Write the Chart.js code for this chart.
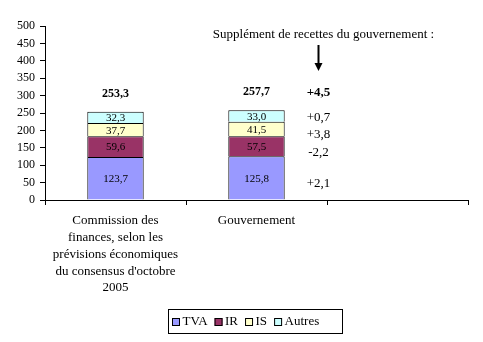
<!DOCTYPE html>
<html lang="fr">
<head>
<meta charset="utf-8">
<title>Recettes fiscales 2006</title>
<script src="https://cdn.jsdelivr.net/npm/chart.js@4"></script>
<style>
  html, body { margin: 0; padding: 0; background: #ffffff; }
  canvas { display: block; }
</style>
</head>
<body>
<canvas id="recettesChart" width="483" height="342"></canvas>
<script>
// Données (en milliards)
const categories = [
  ['Commission des', 'finances, selon les', 'prévisions économiques', "du consensus d'octobre", '2005'],
  'Gouvernement',
  ''
];
const tva = [123.7, 125.8, null];
const ir = [59.6, 57.5, null];
const is = [37.7, 41.5, null];
const autres = [32.3, 33.0, null];
const totaux = ['253,3', '257,7'];

// Supplément de recettes du gouvernement, par impôt (TVA, IR, IS, Autres)
const supplements = ['+2,1', '-2,2', '+3,8', '+0,7'];
const supplementTotal = '+4,5';
const titreSupplement = 'Supplément de recettes du gouvernement :';

const serif = '"Liberation Serif", "Times New Roman", serif';

// Libellés : valeurs dans les barres, totaux, suppléments et légende encadrée
const annotations = {
  id: 'annotations',
  afterDatasetsDraw(chart) {
    const ctx = chart.ctx;
    const x = chart.scales.x;
    ctx.save();
    ctx.fillStyle = '#000';
    ctx.textAlign = 'center';
    ctx.textBaseline = 'middle';

    // valeurs au centre de chaque segment
    ctx.font = '11px ' + serif;
    chart.data.datasets.forEach((ds, i) => {
      chart.getDatasetMeta(i).data.forEach((bar, j) => {
        if (ds.data[j] == null) return;
        const label = ds.data[j].toFixed(1).replace('.', ',');
        ctx.fillText(label, bar.x, (bar.y + bar.base) / 2 + 1);
      });
    });

    // totaux au-dessus des barres
    ctx.font = 'bold 12px ' + serif;
    const top = chart.getDatasetMeta(chart.data.datasets.length - 1);
    totaux.forEach((t, j) => {
      ctx.fillText(t, top.data[j].x, top.data[j].y - 18);
    });

    // colonne des suppléments, à droite de la barre du gouvernement
    const colX = x.getPixelForValue(1) + 62;
    ctx.font = '13px ' + serif;
    supplements.forEach((s, i) => {
      const bar = chart.getDatasetMeta(i).data[1];
      const off = i === supplements.length - 1 ? 2 : 6;
      ctx.fillText(s, colX, (bar.y + bar.base) / 2 + off);
    });
    ctx.font = 'bold 13px ' + serif;
    ctx.fillText(supplementTotal, colX, top.data[1].y - 18);

    // titre et flèche
    ctx.font = '13px ' + serif;
    ctx.fillText(titreSupplement, colX + 5, 35);
    ctx.strokeStyle = '#000';
    ctx.lineWidth = 2;
    ctx.beginPath();
    ctx.moveTo(colX, 45);
    ctx.lineTo(colX, 64);
    ctx.stroke();
    ctx.beginPath();
    ctx.moveTo(colX - 4, 63);
    ctx.lineTo(colX + 4, 63);
    ctx.lineTo(colX, 71);
    ctx.closePath();
    ctx.fill();

    // légende encadrée
    const lx = 168, ly = 309, lw = 174, lh = 24;
    ctx.lineWidth = 1;
    ctx.strokeRect(lx + 0.5, ly + 0.5, lw, lh);
    ctx.font = '13px ' + serif;
    ctx.textAlign = 'left';
    let cx = lx + 4;
    const cy = ly + lh / 2 + 1;
    chart.data.datasets.forEach(ds => {
      ctx.fillStyle = ds.backgroundColor;
      ctx.fillRect(cx, cy - 4, 8, 8);
      ctx.strokeRect(cx + 0.5, cy - 3.5, 7, 7);
      ctx.fillStyle = '#000';
      ctx.fillText(ds.label, cx + 10.5, cy);
      cx += 10.5 + ctx.measureText(ds.label).width + 7;
    });
    ctx.restore();
  }
};

const serie = (label, data, color) => ({
  label: label,
  data: data,
  backgroundColor: color,
  borderColor: '#000',
  borderWidth: 1,
  categoryPercentage: 0.4,
  barPercentage: 1
});

new Chart(document.getElementById('recettesChart'), {
  type: 'bar',
  data: {
    labels: categories,
    datasets: [
      serie('TVA', tva, '#9999ff'),
      serie('IR', ir, '#993366'),
      serie('IS', is, '#ffffcc'),
      serie('Autres', autres, '#ccffff')
    ]
  },
  options: {
    responsive: false,
    animation: false,
    layout: { padding: { top: 26, right: 15, left: 0, bottom: 0 } },
    plugins: {
      legend: { display: false },
      tooltip: { enabled: false }
    },
    scales: {
      x: {
        stacked: true,
        afterFit: (s) => { s.height = 142; },
        grid: { drawOnChartArea: false, tickLength: 5, color: '#000', offset: true },
        border: { color: '#000' },
        ticks: { color: '#000', padding: 7, maxRotation: 0, autoSkip: false, font: { family: serif, size: 13, lineHeight: 1.3 } }
      },
      y: {
        stacked: true,
        min: 0,
        max: 500,
        afterFit: (s) => { s.width = 45; },
        grid: { drawOnChartArea: false, tickLength: 5, color: '#000' },
        border: { color: '#000' },
        ticks: { stepSize: 50, color: '#000', padding: 5, font: { family: serif, size: 12 } }
      }
    }
  },
  plugins: [annotations]
});
</script>
</body>
</html>
